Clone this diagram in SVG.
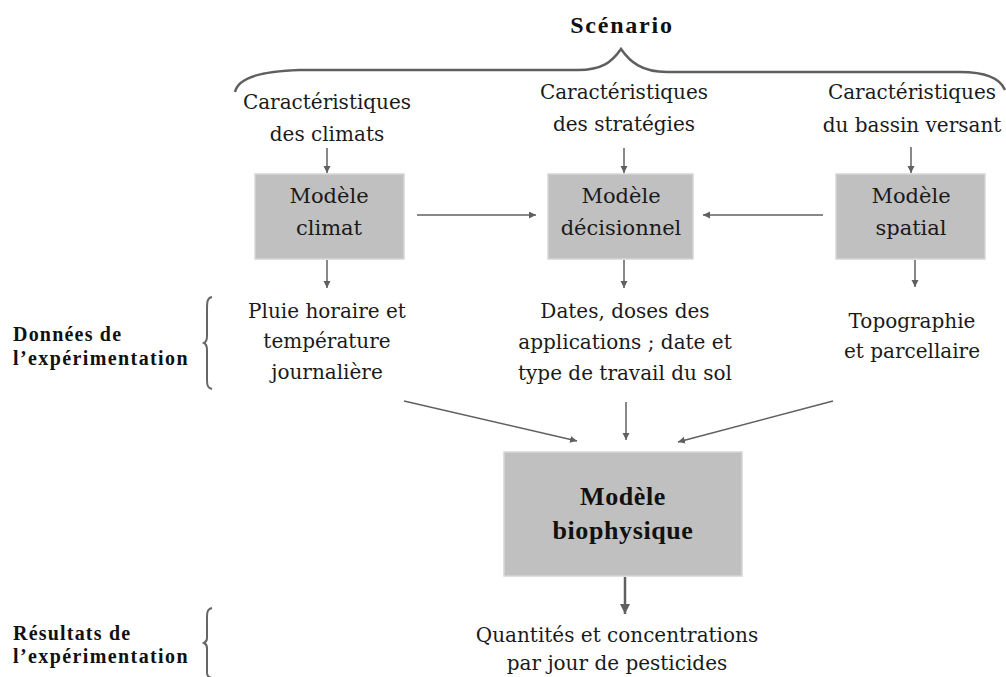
<svg xmlns="http://www.w3.org/2000/svg" width="1006" height="677" viewBox="0 0 1006 677">
<style>
.t{font-family:"DejaVu Serif","Liberation Serif",serif;font-size:20px;fill:#1a1a1a;text-anchor:middle}
.bx{font-size:21px}
.b{font-family:"Liberation Serif","Times New Roman",serif;font-weight:bold;fill:#111}
.box{fill:#c0c0c0;stroke:#d6d6d6;stroke-width:1.5}
.ar{stroke:#606060;stroke-width:1.5;fill:none;marker-end:url(#ah)}
.br{stroke:#5f5f5f;stroke-width:2.5;fill:none}
</style>
<defs>
<marker id="ah" markerUnits="userSpaceOnUse" markerWidth="10" markerHeight="10" refX="7" refY="3.5" orient="auto">
<path d="M0,0 L7,3.5 L0,7 Z" fill="#606060"/>
</marker>
<marker id="ah2" markerUnits="userSpaceOnUse" markerWidth="14" markerHeight="14" refX="10" refY="5" orient="auto">
<path d="M0,0 L10,5 L0,10 Z" fill="#606060"/>
</marker>
</defs>
<rect width="1006" height="677" fill="#fff"/>
<g id="scenario">
<text class="b" x="622" y="33" font-size="24" text-anchor="middle" letter-spacing="1.8">Scénario</text>
<path class="br" d="M235,92 C238,78 262,71 300,70 L578,70 C602,70 612,62 621,49 C630,62 642,72 667,72 L960,72 C985,72 1000,78 1005,90"/>
</g>
<g id="carac-climats">
<text class="t" x="327" y="109">Caractéristiques</text>
<text class="t" x="327" y="141">des climats</text>
</g>
<g id="carac-strategies">
<text class="t" x="624" y="99">Caractéristiques</text>
<text class="t" x="624" y="131">des stratégies</text>
</g>
<g id="carac-bassin">
<text class="t" x="912" y="99">Caractéristiques</text>
<text class="t" x="912" y="132">du bassin versant</text>
</g>
<g id="modele-climat">
<rect class="box" x="255" y="174" width="149" height="85"/>
<text class="t bx" x="329" y="203">Modèle</text>
<text class="t bx" x="329" y="235">climat</text>
</g>
<g id="modele-decisionnel">
<rect class="box" x="548" y="174" width="145" height="85"/>
<text class="t bx" x="621" y="203">Modèle</text>
<text class="t bx" x="621" y="235">décisionnel</text>
</g>
<g id="modele-spatial">
<rect class="box" x="836" y="174" width="149" height="85"/>
<text class="t bx" x="911" y="203">Modèle</text>
<text class="t bx" x="911" y="235">spatial</text>
</g>
<g id="pluie">
<text class="t" x="327" y="318">Pluie horaire et</text>
<text class="t" x="327" y="348">température</text>
<text class="t" x="327" y="379">journalière</text>
</g>
<g id="dates">
<text class="t" x="625" y="318">Dates, doses des</text>
<text class="t" x="625" y="349">applications ; date et</text>
<text class="t" x="625" y="380">type de travail du sol</text>
</g>
<g id="topo">
<text class="t" x="912" y="328">Topographie</text>
<text class="t" x="912" y="358">et parcellaire</text>
</g>
<g id="modele-biophysique">
<rect class="box" x="504" y="452" width="238" height="124"/>
<text class="b" x="623" y="505" font-size="26" text-anchor="middle" letter-spacing="0.6">Modèle</text>
<text class="b" x="623" y="539" font-size="26" text-anchor="middle" letter-spacing="0.6">biophysique</text>
</g>
<g id="quantites">
<text class="t" x="617" y="642">Quantités et concentrations</text>
<text class="t" x="617" y="670">par jour de pesticides</text>
</g>
<g id="donnees">
<text class="b" x="13" y="341" font-size="20" letter-spacing="1.2">Données de</text>
<text class="b" x="13" y="365" font-size="20" letter-spacing="1.4">l’expérimentation</text>
<path stroke="#666" stroke-width="2" fill="none" d="M212,297 C207,298 207,302 207,310 L207,336 C207,340 206,342 204,343 C206,344 207,346 207,350 L207,380 C207,386 208,388 212,389"/>
</g>
<g id="resultats">
<text class="b" x="13" y="640" font-size="20" letter-spacing="1.2">Résultats de</text>
<text class="b" x="13" y="663" font-size="20" letter-spacing="1.4">l’expérimentation</text>
<path stroke="#666" stroke-width="2" fill="none" d="M212,608 C207,609 207,613 207,618 L207,638 C207,641 206,642 204,643 C206,644 207,645 207,648 L207,672 C207,676 208,677 212,678"/>
</g>
<g id="connectors">
<line class="ar" x1="327" y1="148" x2="327" y2="173"/>
<line class="ar" x1="624" y1="148" x2="624" y2="173"/>
<line class="ar" x1="911" y1="147" x2="911" y2="173"/>
<line class="ar" x1="327" y1="260" x2="327" y2="288"/>
<line class="ar" x1="624" y1="260" x2="624" y2="288"/>
<line class="ar" x1="915" y1="260" x2="915" y2="287"/>
<line class="ar" x1="417" y1="215" x2="536" y2="215"/>
<line class="ar" x1="823" y1="215" x2="703" y2="215"/>
<line class="ar" x1="404" y1="401" x2="577" y2="441"/>
<line class="ar" x1="626" y1="402" x2="626" y2="440"/>
<line class="ar" x1="833" y1="401" x2="678" y2="442"/>
<line x1="625" y1="577" x2="625" y2="614" stroke="#606060" stroke-width="2.5" marker-end="url(#ah2)"/>
</g>
</svg>
